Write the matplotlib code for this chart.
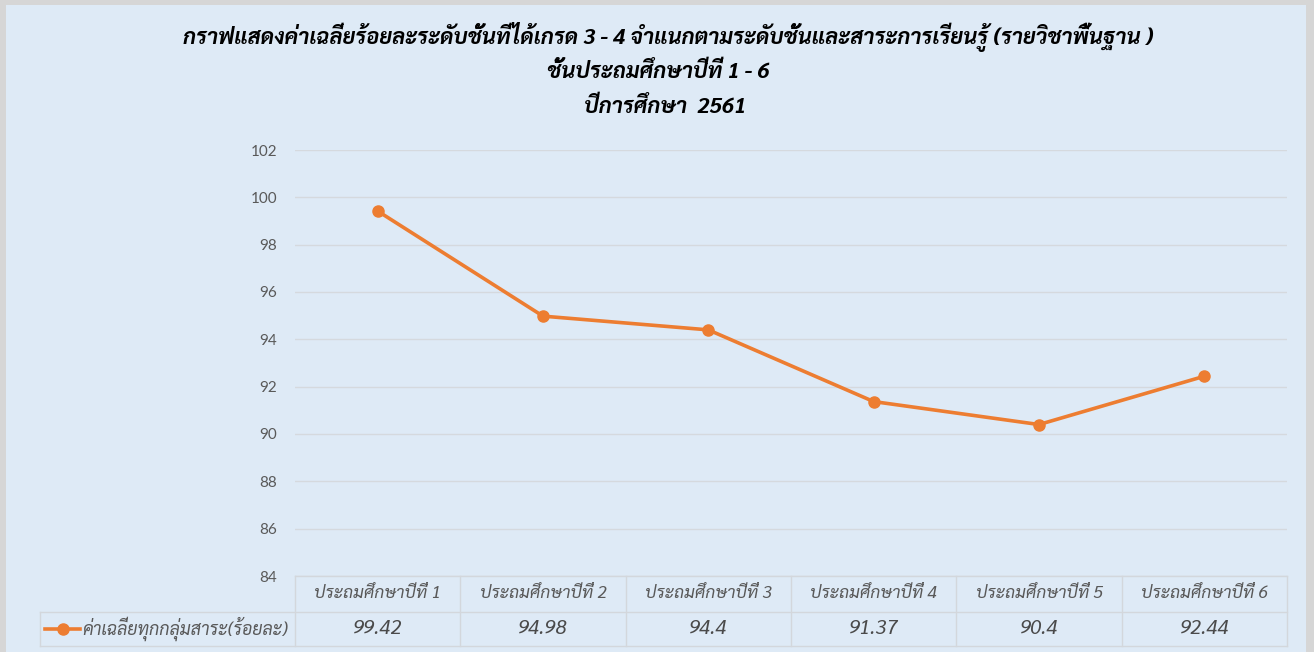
import matplotlib
matplotlib.use('Agg')
import matplotlib.pyplot as plt
from matplotlib.patches import Rectangle
from matplotlib.lines import Line2D
import matplotlib.transforms as mtransforms

# data
categories = ['ประถมศึกษาปีที่ 1', 'ประถมศึกษาปีที่ 2', 'ประถมศึกษาปีที่ 3',
              'ประถมศึกษาปีที่ 4', 'ประถมศึกษาปีที่ 5', 'ประถมศึกษาปีที่ 6']
values = [99.42, 94.98, 94.4, 91.37, 90.4, 92.44]
series_name = 'ค่าเฉลี่ยทุกกลุ่มสาระ(ร้อยละ)'
title_lines = ['กราฟแสดงค่าเฉลี่ยร้อยละระดับชั้นที่ได้เกรด 3 - 4 จำแนกตามระดับชั้นและสาระการเรียนรู้ (รายวิชาพื้นฐาน )',
               'ชั้นประถมศึกษาปีที่ 1 - 6',
               'ปีการศึกษา  2561']
y_ticks = [84, 86, 88, 90, 92, 94, 96, 98, 100, 102]

BG = '#DEEAF6'
ORANGE = '#ED7D31'
GRID = '#D5D9DE'
TXT = '#595959'
THAI = ['Sarabun', 'DejaVu Sans']

W, H = 1314, 652
fig = plt.figure(figsize=(W / 100, H / 100), dpi=100, facecolor='#D6D6D6')
fig.add_artist(Rectangle((6 / W, 0), (1306 - 6) / W, 1 - 5 / H, transform=fig.transFigure,
                         facecolor=BG, edgecolor='none', zorder=0))

# plot area in pixels
left, right, top, bottom = 295, 1287, 150, 576
ax = fig.add_axes([left / W, 1 - bottom / H, (right - left) / W, (bottom - top) / H])
ax.set_facecolor('none')
x = list(range(len(values)))
ax.plot(x, values, color=ORANGE, lw=2.6, marker='o', ms=8, zorder=3, clip_on=False)
ax.set_xlim(-0.5, len(values) - 0.5)
ax.set_ylim(y_ticks[0], y_ticks[-1])
ax.set_yticks(y_ticks)
ax.set_xticks([])
ax.grid(axis='y', color=GRID, lw=1)
ax.set_axisbelow(True)
for s in ax.spines.values():
    s.set_visible(False)
ax.tick_params(axis='y', length=0, pad=13, labelcolor=TXT, labelsize=11)
for lab in ax.get_yticklabels():
    lab.set_family('Lato')

# data table below the axis
ah = bottom - top
row1 = -(612 - bottom) / ah
row2 = -(646 - bottom) / ah
leg_left = (40 - left) / (right - left)
blend = mtransforms.blended_transform_factory(ax.transData, ax.transAxes)
tk = dict(color='#D3D7DC', lw=1, clip_on=False)
ax.add_line(Line2D([0, 1], [0, 0], transform=ax.transAxes, **tk))
ax.add_line(Line2D([leg_left, 1], [row1, row1], transform=ax.transAxes, **tk))
ax.add_line(Line2D([leg_left, 1], [row2, row2], transform=ax.transAxes, **tk))
ax.add_line(Line2D([leg_left, leg_left], [row1, row2], transform=ax.transAxes, **tk))
for b in range(len(values) + 1):
    ax.add_line(Line2D([b - 0.5, b - 0.5], [0, row2], transform=blend, **tk))
for i, (c, v) in enumerate(zip(categories, values)):
    ax.text(i, row1 / 2, c, transform=blend, ha='center', va='center', fontsize=12.5,
            style='italic', color=TXT, family=THAI)
    ax.text(i, (row1 + row2) / 2, str(v), transform=blend, ha='center', va='center',
            fontsize=14.5, style='italic', color='#4a4a4a', family=THAI)

# legend key in the table
ky = (row1 + row2) / 2
kx0 = (45 - left) / (right - left)
kx1 = (80 - left) / (right - left)
ax.add_line(Line2D([kx0, kx1], [ky, ky], transform=ax.transAxes, color=ORANGE, lw=2.6, clip_on=False))
ax.add_line(Line2D([(kx0 + kx1) / 2], [ky], transform=ax.transAxes, color=ORANGE, marker='o',
                   ms=8, clip_on=False))
ax.text((82 - left) / (right - left), ky, series_name, transform=ax.transAxes, ha='left',
        va='center', fontsize=12.8, style='italic', color=TXT, family=THAI)

# title
for xx, yy, line in zip([668, 658, 665], [37, 72, 107], title_lines):
    fig.text(xx / W, 1 - yy / H, line, ha='center', va='center', fontsize=15.7,
             fontweight='bold', style='italic', color='black', family=THAI)

fig.savefig('out.png', dpi=100, facecolor=fig.get_facecolor())
